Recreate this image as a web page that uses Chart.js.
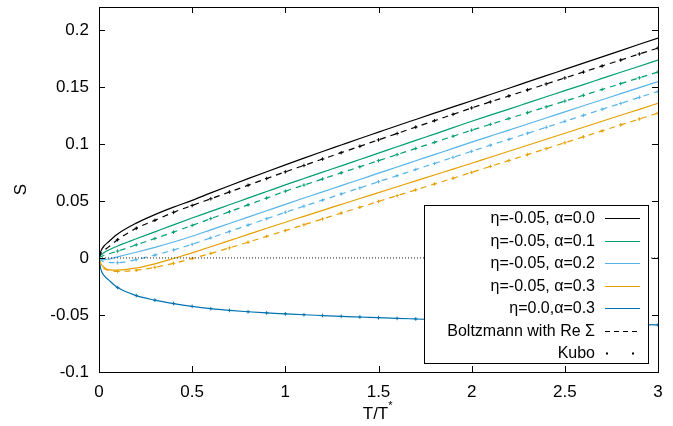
<!DOCTYPE html>
<html>
<head>
<meta charset="utf-8">
<script src="https://cdn.jsdelivr.net/npm/chart.js@4.4.0/dist/chart.umd.min.js"></script>
<style>
  html, body { margin: 0; padding: 0; background: #fff; }
  canvas { display: block; }
</style>
</head>
<body>
<canvas id="grafico" width="673" height="426"></canvas>
<script>
// Temperature grid T/T*
const tGrid = [0, 0.01, 0.03, 0.05, 0.1, 0.2, 0.3, 0.4, 0.5, 0.6, 0.7, 0.8, 0.9, 1.0, 1.1, 1.2, 1.3, 1.4, 1.5,
  1.6, 1.7, 1.8, 1.9, 2.0, 2.1, 2.2, 2.3, 2.4, 2.5, 2.6, 2.7, 2.8, 2.9, 3.0];

// Seebeck S, full calculation (solid lines)
const sA00 = [0, 0.006, 0.011, 0.014, 0.021, 0.0305, 0.038, 0.0445, 0.0505, 0.057, 0.0633, 0.0695, 0.0756, 0.0816, 0.0875, 0.0933, 0.099, 0.1047, 0.1103,
  0.1159, 0.1214, 0.1269, 0.1324, 0.1378, 0.1433, 0.1488, 0.1543, 0.1598, 0.1653, 0.1708, 0.1763, 0.1818, 0.1873, 0.1928];
const sA01 = [0, 0.0025, 0.005, 0.0068, 0.0105, 0.0168, 0.0229, 0.029, 0.035, 0.0408, 0.0466, 0.0524, 0.0582, 0.064, 0.0696, 0.0752, 0.0807, 0.0863, 0.0919,
  0.0975, 0.1031, 0.1086, 0.1142, 0.1198, 0.1252, 0.1305, 0.1359, 0.1413, 0.1467, 0.152, 0.1574, 0.1628, 0.1681, 0.1735];
const sA02 = [0, -0.001, -0.0015, -0.001, 0.001, 0.005, 0.0093, 0.014, 0.019, 0.0246, 0.0302, 0.0358, 0.0414, 0.047, 0.0525, 0.0579, 0.0634, 0.0688, 0.0743,
  0.0797, 0.0852, 0.0906, 0.0961, 0.1015, 0.1068, 0.1121, 0.1174, 0.1227, 0.1281, 0.1334, 0.1387, 0.144, 0.1493, 0.1546];
const sA03 = [0, -0.005, -0.0085, -0.0102, -0.0107, -0.0088, -0.0052, -0.0005, 0.0045, 0.0098, 0.0152, 0.0206, 0.026, 0.0313, 0.0365, 0.0417, 0.0469, 0.0521, 0.0572,
  0.0624, 0.0676, 0.0727, 0.0779, 0.083, 0.0883, 0.0935, 0.0988, 0.1041, 0.1093, 0.1146, 0.1198, 0.1251, 0.1303, 0.1356];
const sEta0 = [0, -0.010, -0.016, -0.019, -0.026, -0.033, -0.037, -0.040, -0.0425, -0.0445, -0.046, -0.0472, -0.0482, -0.049, -0.0498, -0.0505, -0.0512, -0.0518, -0.0524,
  -0.053, -0.0535, -0.054, -0.0545, -0.055, -0.0554, -0.0558, -0.0562, -0.0566, -0.057, -0.0574, -0.0578, -0.0581, -0.0584, -0.0587];

// Boltzmann with Re Sigma (dashed lines)
const bA00 = [0, 0.004, 0.007, 0.0095, 0.016, 0.026, 0.033, 0.040, 0.046, 0.0519, 0.0578, 0.0637, 0.0696, 0.0755, 0.0811, 0.0867, 0.0923, 0.0979, 0.1035,
  0.1091, 0.1147, 0.1203, 0.1259, 0.1315, 0.1368, 0.142, 0.1473, 0.1525, 0.1578, 0.163, 0.1683, 0.1735, 0.1788, 0.184];
const bA01 = [0, 0.001, 0.0025, 0.0035, 0.006, 0.0115, 0.017, 0.0227, 0.0285, 0.0345, 0.0405, 0.0465, 0.0525, 0.0585, 0.0639, 0.0692, 0.0746, 0.0799, 0.0853,
  0.0906, 0.096, 0.1013, 0.1067, 0.112, 0.1171, 0.1222, 0.1273, 0.1324, 0.1375, 0.1426, 0.1477, 0.1528, 0.1579, 0.163];
const bA02 = [0, -0.002, -0.0035, -0.004, -0.0042, -0.0015, 0.0025, 0.007, 0.012, 0.0176, 0.0232, 0.0288, 0.0344, 0.040, 0.0454, 0.0507, 0.0561, 0.0614, 0.0668,
  0.0721, 0.0775, 0.0828, 0.0882, 0.0935, 0.0988, 0.104, 0.1093, 0.1145, 0.1198, 0.125, 0.1303, 0.1355, 0.1408, 0.146];
const bA03 = [0, -0.006, -0.0095, -0.011, -0.0118, -0.0108, -0.0082, -0.0047, -0.0005, 0.004, 0.0088, 0.0138, 0.0189, 0.024, 0.0291, 0.0342, 0.0393, 0.0444, 0.0495,
  0.0546, 0.0597, 0.0648, 0.0699, 0.075, 0.0802, 0.0854, 0.0906, 0.0958, 0.101, 0.1062, 0.1114, 0.1166, 0.1218, 0.127];

const xTicks = [0, 0.5, 1, 1.5, 2, 2.5, 3];
const yTicks = [-0.1, -0.05, 0, 0.05, 0.1, 0.15, 0.2];
const zeroLine = [0, 3];

const FONT = "'Liberation Sans', Arial, Helvetica, sans-serif";
const colNegro = '#000000', colVerde = '#009e73', colCeleste = '#56b4e9', colNaranja = '#e69f00', colAzul = '#0072b2';

const puntos = arr => tGrid.map((t, i) => ({ x: t, y: arr[i] }));
// Kubo points sit on every 0.1 of the grid
const radioKubo = ctx => (tGrid[ctx.dataIndex] >= 0.1 ? 1.8 : 0);

function solida(arr, color) {
  return { data: puntos(arr), borderColor: color, borderWidth: 1.2, pointRadius: 0,
    cubicInterpolationMode: 'monotone' };
}
function discontinua(arr, color) {
  return { data: puntos(arr), borderColor: color, borderWidth: 1.2, borderDash: [6, 5],
    pointRadius: radioKubo, pointStyle: 'cross', pointBorderColor: color, pointBorderWidth: 1,
    cubicInterpolationMode: 'monotone' };
}

const datasets = [
  { data: zeroLine.map(x => ({ x: x, y: 0 })), borderColor: '#222', borderWidth: 1, borderDash: [1, 2], pointRadius: 0 },
  solida(sA00, colNegro), discontinua(bA00, colNegro),
  solida(sA01, colVerde), discontinua(bA01, colVerde),
  solida(sA02, colCeleste), discontinua(bA02, colCeleste),
  solida(sA03, colNaranja), discontinua(bA03, colNaranja),
  Object.assign(solida(sEta0, colAzul), { pointRadius: radioKubo, pointStyle: 'cross', pointBorderColor: colAzul, pointBorderWidth: 1 })
];

// Legend entries, gnuplot style: text on the left, sample on the right
const leyenda = [
  { texto: 'η=-0.05, α=0.0', color: colNegro, tipo: 'linea' },
  { texto: 'η=-0.05, α=0.1', color: colVerde, tipo: 'linea' },
  { texto: 'η=-0.05, α=0.2', color: colCeleste, tipo: 'linea' },
  { texto: 'η=-0.05, α=0.3', color: colNaranja, tipo: 'linea' },
  { texto: 'η=0.0,α=0.3', color: colAzul, tipo: 'linea' },
  { texto: 'Boltzmann with Re Σ', color: colNegro, tipo: 'guiones' },
  { texto: 'Kubo', color: colNegro, tipo: 'puntos' }
];

const marco = {
  id: 'marco',
  afterDraw(chart) {
    const ctx = chart.ctx;
    const a = chart.chartArea;
    const sx = chart.scales.x, sy = chart.scales.y;
    ctx.save();
    ctx.strokeStyle = '#000';
    ctx.lineWidth = 1;
    ctx.setLineDash([]);
    // inward ticks on all four sides
    ctx.beginPath();
    xTicks.forEach(v => {
      const px = Math.round(sx.getPixelForValue(v)) + 0.5;
      ctx.moveTo(px, a.bottom); ctx.lineTo(px, a.bottom - 6);
      ctx.moveTo(px, a.top); ctx.lineTo(px, a.top + 6);
    });
    yTicks.forEach(v => {
      const py = Math.round(sy.getPixelForValue(v)) + 0.5;
      ctx.moveTo(a.left, py); ctx.lineTo(a.left + 6, py);
      ctx.moveTo(a.right, py); ctx.lineTo(a.right - 6, py);
    });
    ctx.stroke();

    // key box
    const kx = 424, ky = 205, kw = 224, kh = 158;
    ctx.fillStyle = '#fff';
    ctx.fillRect(kx, ky, kw, kh);
    ctx.strokeRect(kx + 0.5, ky + 0.5, kw, kh);
    ctx.font = '16px ' + FONT;
    ctx.textAlign = 'right';
    ctx.textBaseline = 'middle';
    leyenda.forEach((e, i) => {
      const yy = Math.round(ky + 13 + i * 22.5) + 0.5;
      ctx.fillStyle = '#000';
      ctx.fillText(e.texto, 595, yy);
      ctx.strokeStyle = e.color;
      ctx.lineWidth = 1.2;
      if (e.tipo === 'puntos') {
        ctx.fillStyle = e.color;
        ctx.fillRect(606, yy - 1, 2, 2);
        ctx.fillRect(632, yy - 1, 2, 2);
      } else {
        ctx.setLineDash(e.tipo === 'guiones' ? [5, 4] : []);
        ctx.beginPath();
        ctx.moveTo(605, yy); ctx.lineTo(640, yy);
        ctx.stroke();
      }
    });
    ctx.setLineDash([]);

    // plot border
    ctx.strokeStyle = '#000';
    ctx.lineWidth = 1;
    ctx.strokeRect(a.left + 0.5, a.top + 0.5, a.right - a.left, a.bottom - a.top);

    // axis titles
    ctx.fillStyle = '#000';
    ctx.font = '17px ' + FONT;
    ctx.textAlign = 'left';
    ctx.textBaseline = 'middle';
    const cx = (a.left + a.right) / 2;
    const w1 = ctx.measureText('T/T').width;
    ctx.fillText('T/T', cx - w1 / 2 - 3, 414);
    ctx.font = '11px ' + FONT;
    ctx.fillText('*', cx + w1 / 2 - 3, 406);
    ctx.font = '17px ' + FONT;
    ctx.save();
    ctx.translate(21, (a.top + a.bottom) / 2);
    ctx.rotate(-Math.PI / 2);
    ctx.textAlign = 'center';
    ctx.fillText('S', 0, 0);
    ctx.restore();
    ctx.restore();
  }
};

Chart.defaults.font.family = FONT;
Chart.defaults.color = '#000';

new Chart(document.getElementById('grafico').getContext('2d'), {
  type: 'line',
  data: { datasets: datasets },
  options: {
    responsive: false,
    animation: false,
    layout: { padding: { top: 7, right: 15, left: 0, bottom: 0 } },
    plugins: { legend: { display: false }, tooltip: { enabled: false } },
    scales: {
      x: {
        type: 'linear', min: 0, max: 3,
        grid: { display: false, drawTicks: false },
        border: { display: false },
        afterBuildTicks: s => { s.ticks = xTicks.map(v => ({ value: v })); },
        afterFit: s => { s.height = 54; s.paddingLeft = 0; s.paddingRight = 0; },
        ticks: { font: { size: 17 }, padding: 10, maxRotation: 0, callback: v => String(v) }
      },
      y: {
        type: 'linear', min: -0.1, max: 0.22,
        grid: { display: false, drawTicks: false },
        border: { display: false },
        afterBuildTicks: s => { s.ticks = yTicks.map(v => ({ value: v })); },
        afterFit: s => { s.width = 99; s.paddingTop = 0; s.paddingBottom = 0; },
        ticks: { font: { size: 17 }, padding: 10, callback: v => String(+v.toFixed(2)) }
      }
    }
  },
  plugins: [marco]
});
</script>
</body>
</html>
